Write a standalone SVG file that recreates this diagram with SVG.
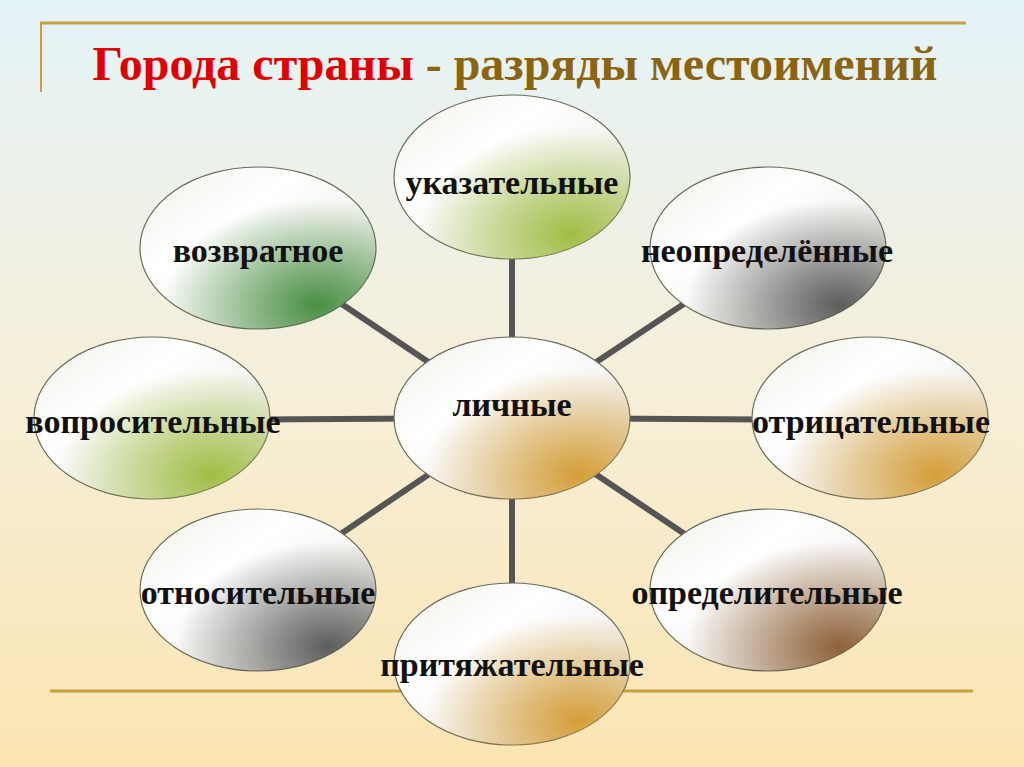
<svg xmlns="http://www.w3.org/2000/svg" width="1024" height="767" viewBox="0 0 1024 767">
<defs>
<linearGradient id="bg" x1="0" y1="0" x2="0" y2="1">
<stop offset="0" stop-color="#e4f3f8"/>
<stop offset="0.5" stop-color="#f6efd9"/>
<stop offset="1" stop-color="#fce5b2"/>
</linearGradient>
<linearGradient id="base" x1="0" y1="0" x2="1" y2="1">
<stop offset="0" stop-color="#f0f0ea"/>
<stop offset="0.35" stop-color="#ffffff"/>
<stop offset="1" stop-color="#e4e4dc"/>
</linearGradient>
<radialGradient id="gGreen" cx="0.75" cy="0.85" r="0.65">
<stop offset="0" stop-color="#3f8a3a" stop-opacity="0.95"/>
<stop offset="1" stop-color="#3f8a3a" stop-opacity="0"/>
</radialGradient>
<radialGradient id="gLime" cx="0.75" cy="0.85" r="0.65">
<stop offset="0" stop-color="#9cbc3c" stop-opacity="0.95"/>
<stop offset="1" stop-color="#9cbc3c" stop-opacity="0"/>
</radialGradient>
<radialGradient id="gGray" cx="0.8" cy="0.85" r="0.65">
<stop offset="0" stop-color="#555555" stop-opacity="0.95"/>
<stop offset="1" stop-color="#555555" stop-opacity="0"/>
</radialGradient>
<radialGradient id="gGold" cx="0.78" cy="0.85" r="0.65">
<stop offset="0" stop-color="#d49a30" stop-opacity="0.95"/>
<stop offset="1" stop-color="#d49a30" stop-opacity="0"/>
</radialGradient>
<radialGradient id="gBrown" cx="0.8" cy="0.85" r="0.65">
<stop offset="0" stop-color="#8a5a30" stop-opacity="0.95"/>
<stop offset="1" stop-color="#8a5a30" stop-opacity="0"/>
</radialGradient>
</defs>
<style>
.shell{fill:url(#base);stroke:#6a6a5a;stroke-width:1.2}
.lbl{font-family:"Liberation Serif","DejaVu Serif",serif;font-weight:bold;font-size:34px;fill:#111;text-anchor:middle}
.conn{stroke:#555555;stroke-width:6;fill:none}
.rule{stroke:#c9a040;stroke-width:3;fill:none}
</style>
<rect width="1024" height="767" fill="url(#bg)"/>
<g id="frame">
<line class="rule" x1="40" y1="23" x2="966" y2="23"/>
<line x1="41" y1="23" x2="41" y2="92" stroke="#c9a040" stroke-width="2"/>
<line class="rule" x1="50" y1="691" x2="973" y2="691"/>
</g>
<g id="title">
<text x="515" y="80" text-anchor="middle" font-family="Liberation Serif, DejaVu Serif, serif" font-weight="bold" font-size="48"><tspan fill="#e00000">Города страны</tspan><tspan fill="#8b6410"> - разряды местоимений</tspan></text>
</g>
<g id="connectors">
<line class="conn" x1="512" y1="418" x2="512" y2="178"/>
<line class="conn" x1="512" y1="418" x2="512" y2="665"/>
<line class="conn" x1="512" y1="418" x2="152" y2="420"/>
<line class="conn" x1="512" y1="418" x2="870" y2="420"/>
<line class="conn" x1="512" y1="418" x2="258" y2="248"/>
<line class="conn" x1="512" y1="418" x2="768" y2="248"/>
<line class="conn" x1="512" y1="418" x2="258" y2="590"/>
<line class="conn" x1="512" y1="418" x2="768" y2="590"/>
</g>
<g id="n-ukaz">
<ellipse class="shell" cx="512" cy="177" rx="118" ry="82"/>
<ellipse cx="512" cy="177" rx="118" ry="82" fill="url(#gLime)"/>
<text class="lbl" x="512" y="194">указательные</text>
</g>
<g id="n-vozvr">
<ellipse class="shell" cx="258" cy="248" rx="118" ry="81"/>
<ellipse cx="258" cy="248" rx="118" ry="81" fill="url(#gGreen)"/>
<text class="lbl" x="258" y="262">возвратное</text>
</g>
<g id="n-neopr">
<ellipse class="shell" cx="768" cy="248" rx="118" ry="81"/>
<ellipse cx="768" cy="248" rx="118" ry="81" fill="url(#gGray)"/>
<text class="lbl" x="767" y="262">неопределённые</text>
</g>
<g id="n-vopr">
<ellipse class="shell" cx="152" cy="418" rx="118" ry="81"/>
<ellipse cx="152" cy="418" rx="118" ry="81" fill="url(#gLime)"/>
<text class="lbl" x="153" y="433">вопросительные</text>
</g>
<g id="n-otric">
<ellipse class="shell" cx="870" cy="418" rx="118" ry="81"/>
<ellipse cx="870" cy="418" rx="118" ry="81" fill="url(#gGold)"/>
<text class="lbl" x="871" y="433">отрицательные</text>
</g>
<g id="n-lichn">
<ellipse class="shell" cx="512" cy="418" rx="118" ry="81"/>
<ellipse cx="512" cy="418" rx="118" ry="81" fill="url(#gGold)"/>
<text class="lbl" x="512" y="416">личные</text>
</g>
<g id="n-otnos">
<ellipse class="shell" cx="258" cy="590" rx="118" ry="81"/>
<ellipse cx="258" cy="590" rx="118" ry="81" fill="url(#gGray)"/>
<text class="lbl" x="258" y="604">относительные</text>
</g>
<g id="n-opred">
<ellipse class="shell" cx="768" cy="590" rx="118" ry="81"/>
<ellipse cx="768" cy="590" rx="118" ry="81" fill="url(#gBrown)"/>
<text class="lbl" x="767" y="604">определительные</text>
</g>
<g id="n-prityazh">
<ellipse class="shell" cx="512" cy="664" rx="118" ry="81"/>
<ellipse cx="512" cy="664" rx="118" ry="81" fill="url(#gGold)"/>
<text class="lbl" x="512" y="676">притяжательные</text>
</g>
</svg>
